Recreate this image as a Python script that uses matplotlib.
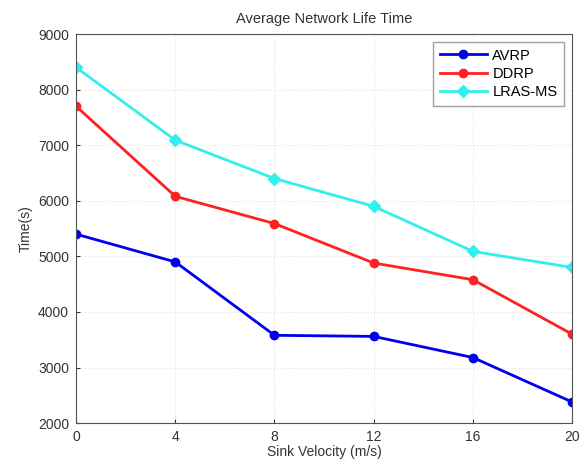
import numpy as np
import matplotlib.pyplot as plt

# sink velocity (m/s)
velocity = [0, 4, 8, 12, 16, 20]
avrp = [5400, 4900, 3580, 3560, 3180, 2380]
ddrp = [7700, 6080, 5590, 4880, 4580, 3600]
lras_ms = [8400, 7090, 6400, 5900, 5090, 4800]

plt.rcParams['font.family'] = ['Liberation Sans', 'DejaVu Sans']

fig = plt.figure(figsize=(5.85, 4.66), dpi=100)
ax = fig.add_axes([0.13, 0.092, 0.848, 0.835])

ax.plot(velocity, avrp, color='#0000ee', marker='o', markersize=6, linewidth=2, label='AVRP')
ax.plot(velocity, ddrp, color='#ff2020', marker='o', markersize=6, linewidth=2, label='DDRP')
ax.plot(velocity, lras_ms, color='#33eeee', marker='D', markersize=6, linewidth=2, label='LRAS-MS')

ax.set_xlim(0, 20)
ax.set_ylim(2000, 9000)
ax.set_xticks(velocity)
ax.set_yticks(np.arange(2000, 9001, 1000))
ax.grid(True, color='#e2e2e2', linestyle=':', linewidth=0.8)
ax.tick_params(direction='in', labelsize=10, colors='#333333', length=3, pad=5)
for s in ax.spines.values():
    s.set_color('#555555')

ax.set_title('Average Network Life Time', fontsize=10.5, color='#333333', pad=8)
ax.set_xlabel('Sink Velocity (m/s)', fontsize=10, color='#333333', labelpad=1)
ax.set_ylabel('Time(s)', fontsize=10, color='#333333', labelpad=4)

leg = ax.legend(loc='upper right', fontsize=10.5, fancybox=False, borderaxespad=0.55,
                handlelength=3.2, labelspacing=0.3, borderpad=0.45, handletextpad=0.4)
leg.get_frame().set_edgecolor('#888888')

fig.savefig('out.png', dpi=100)
